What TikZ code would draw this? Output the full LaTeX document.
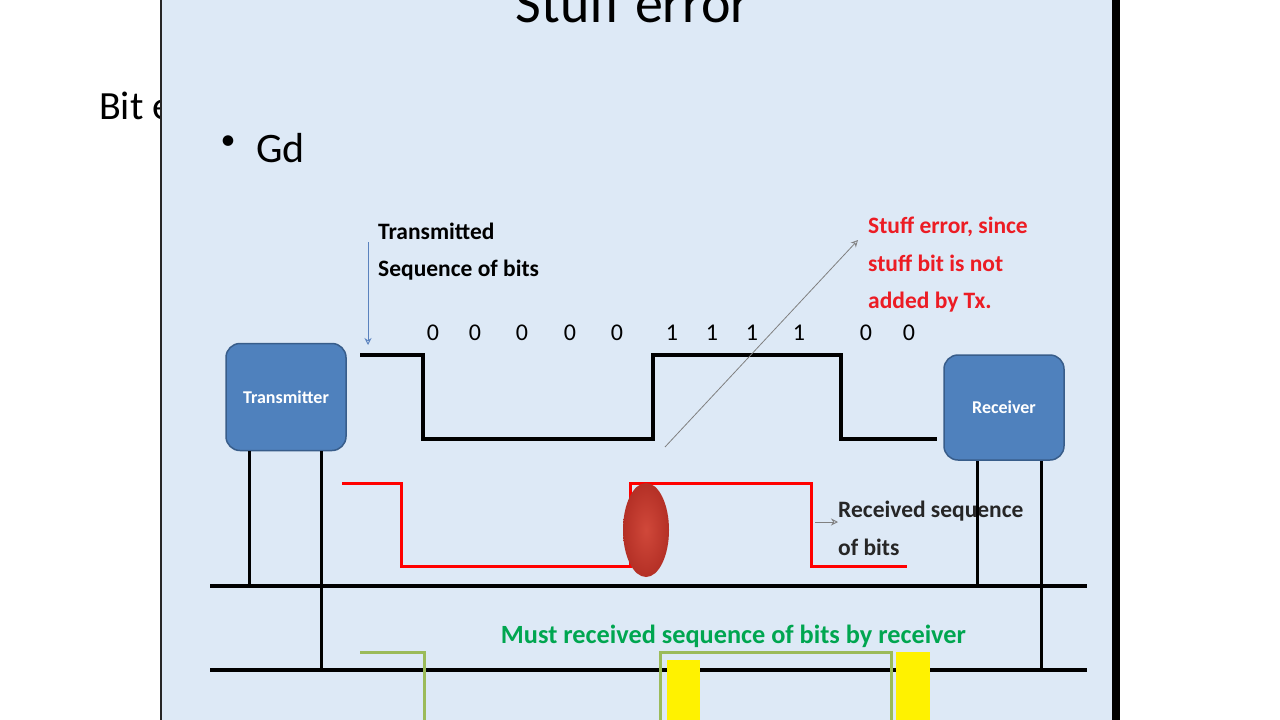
\documentclass[tikz,border=0pt]{standalone}
\usepackage{fontspec}
\setmainfont{Carlito}
\definecolor{slidebg}{RGB}{221,233,246}
\definecolor{boxfill}{RGB}{79,129,189}
\definecolor{boxborder}{RGB}{56,93,138}
\definecolor{olivegreen}{RGB}{155,187,89}
\definecolor{greentext}{RGB}{0,166,80}
\definecolor{redtext}{RGB}{236,28,36}
\definecolor{arrowblue}{RGB}{90,130,190}
\definecolor{ballin}{RGB}{208,72,58}
\definecolor{ballout}{RGB}{180,48,38}
\tikzset{
  wave/.style={line width=4pt, black, line join=miter},
  redwave/.style={line width=3pt, red},
  greenwave/.style={line width=3pt, olivegreen},
  bus/.style={line width=4.5pt, black},
  leg/.style={line width=3pt, black},
  devbox/.style={draw=boxborder, fill=boxfill, rounded corners=14pt, line width=1.5pt,
    text=white, font=\bfseries\fontsize{18}{20}\selectfont, inner sep=0pt},
  lbl/.style={font=\bfseries\fontsize{23.5}{28}\selectfont, anchor=base west, inner sep=0pt},
  bit/.style={font=\fontsize{24}{28}\selectfont, anchor=base, inner sep=0pt},
  thinarrow/.style={-{Stealth[open,length=7pt,width=7pt]}, line width=0.8pt}
}
\usetikzlibrary{arrows.meta}
\begin{document}
\begin{tikzpicture}[x=1pt,y=-1pt]
\useasboundingbox (0,0) rectangle (1280,720);
\fill[white] (0,0) rectangle (1280,720);
% text behind the slide
\node[font=\fontsize{40}{44}\selectfont, anchor=base west, inner sep=0pt] (bite) at (99,119) {Bit e};
% slide
\fill[slidebg] (161,0) rectangle (1112,720);
\draw[line width=2pt, black!85] (160.5,0) -- (160.5,720);
\fill[black] (1112,0) rectangle (1120,720);
% title (cut at top)
\node[font=\fontsize{56}{60}\selectfont, anchor=base, inner sep=0pt] (title) at (633,22) {Stuff error};
% bullet
\node[font=\fontsize{30}{34}\selectfont, inner sep=0pt] (dot) at (228,143) {\textbullet};
\node[font=\fontsize{42}{46}\selectfont, anchor=base west, inner sep=0pt] (gd) at (256,162) {Gd};

% labels
\node[lbl] (txlbl1) at (378,239) {Transmitted};
\node[lbl] (txlbl2) at (378,276) {Sequence of bits};
\node[lbl, text=redtext] (err1) at (868,233) {Stuff error, since};
\node[lbl, text=redtext] (err2) at (868,271) {stuff bit is not};
\node[lbl, text=redtext] (err3) at (868,308) {added by Tx.};
\node[lbl, text=black!85] (rx1) at (838,517) {Received sequence};
\node[lbl, text=black!85] (rx2) at (838,555) {of bits};
\node[font=\bfseries\fontsize{26.3}{30}\selectfont, anchor=base, inner sep=0pt, text=greentext] (must) at (733.5,643) {Must received sequence of bits by receiver};

% bits
\foreach \x/\b [count=\i] in {433/0,475/0,522/0,570/0,617/0,672/1,712/1,752/1,799/1,866/0,909/0}
  \node[bit] (bit\i) at (\x,340) {\b};

% devices
\node[devbox, minimum width=120pt, minimum height=107pt] (tx) at (286,397) {Transmitter};
\node[devbox, minimum width=120pt, minimum height=105pt] (rx) at (1004,407.5) {Receiver};

% buses
\coordinate (busAw) at (210,586);
\coordinate (busAe) at (1087,586);
\coordinate (busBw) at (210,670);
\coordinate (busBe) at (1087,670);
\coordinate (tapA1) at (249,586);
\coordinate (tapB1) at (321,670);
\coordinate (tapA2) at (977,586);
\coordinate (tapB2) at (1041,670);
\draw[leg] (tx.south -| tapA1) -- (tapA1);
\draw[leg] (tx.south -| tapB1) -- (tapB1);
\draw[leg] (rx.south -| tapA2) -- (tapA2);
\draw[leg] (rx.south -| tapB2) -- (tapB2);
\draw[bus] (busAw) -- (busAe);
\draw[bus] (busBw) -- (busBe);

% transmitted waveform
\draw[wave] (360,355) -- (423,355) -- (423,439) -- (653,439) -- (653,355) -- (841,355) -- (841,439) -- (937,439);

% received waveform
\draw[redwave] (342,483) -- (401,483) -- (401,566) -- (630,566) -- (630,483) -- (811,483) -- (811,566) -- (907,566);
\shade[inner color=ballin, outer color=ballout] (646,530) ellipse [x radius=23pt, y radius=47pt];

% expected waveform
\draw[greenwave] (360,652) -- (424,652) -- (424,720);
\draw[greenwave] (660,720) -- (660,652) -- (891,652) -- (891,720);
\fill[yellow] (667,660) rectangle (700,720);
\fill[yellow] (896,652) rectangle (930,720);

% arrows
\coordinate (blueS) at (368,242);
\coordinate (blueE) at (368,345);
\draw[thinarrow, arrowblue] (blueS) -- (blueE);
\coordinate (diagS) at (665,447);
\coordinate (diagE) at (858,240);
\draw[thinarrow, gray] (diagS) -- (diagE);
\coordinate (smallS) at (815,522);
\draw[thinarrow, gray] (smallS) -- (rx1.west |- smallS);
\end{tikzpicture}
\end{document}
